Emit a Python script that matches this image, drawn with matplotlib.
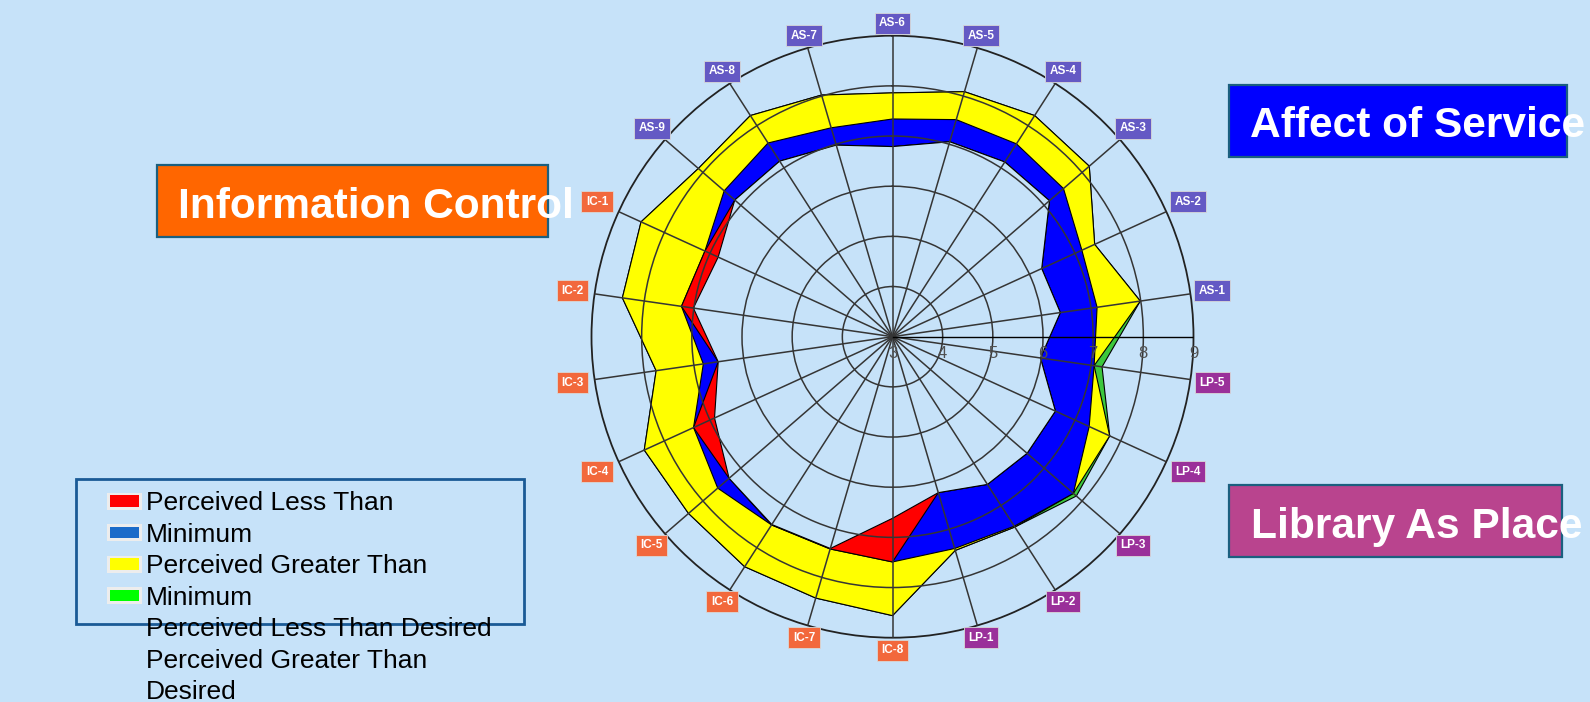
"""
LibQUAL style radar chart: minimum, perceived and desired scores per item.
"""

import numpy as np
import matplotlib.pyplot as plt
from matplotlib.patches import Rectangle

plt.rcParams['font.family'] = ['Liberation Sans', 'DejaVu Sans']

# colour constants
BG = '#C6E2F9'
LINE = '#353535'

# items, clockwise from the top
items = ['AS-6', 'AS-5', 'AS-4', 'AS-3', 'AS-2', 'AS-1',
         'LP-5', 'LP-4', 'LP-3', 'LP-2', 'LP-1',
         'IC-8', 'IC-7', 'IC-6', 'IC-5', 'IC-4', 'IC-3', 'IC-2', 'IC-1',
         'AS-9', 'AS-8', 'AS-7']
minimum = [6.79, 7.05, 7.14, 7.14, 6.27, 6.38,
           5.98, 6.57, 6.55, 6.50, 6.24,
           7.49, 7.41, 7.46, 7.31, 7.36, 6.51, 7.25, 7.11,
           7.16, 7.16, 6.98]
perceived = [7.34, 7.51, 7.57, 7.51, 7.15, 7.12,
             7.22, 7.31, 7.85, 7.49, 7.40,
             6.62, 7.40, 7.45, 7.61, 6.90, 6.81, 7.01, 6.82,
             7.44, 7.59, 7.34]
desired = [7.86, 8.09, 8.24, 8.19, 7.43, 7.99,
           7.06, 7.76, 7.77, 7.51, 7.44,
           8.56, 8.43, 8.45, 8.38, 8.44, 7.76, 8.44, 8.51,
           8.12, 8.24, 8.02]
r_ticks = [3, 4, 5, 6, 7, 8, 9]

label_colors = {'AS': '#6459C4', 'IC': '#F2683C', 'LP': '#9A309A'}

legend_lines = ['Perceived Less Than', 'Minimum', 'Perceived Greater Than', 'Minimum',
                'Perceived Less Than Desired', 'Perceived Greater Than', 'Desired']
legend_colors = ['#FF0000', '#1B6BC9', '#FFFF00', '#00FF00']

dimensions = ['Affect of Service', 'Information Control', 'Library As Place']
dimension_colors = ['#0000FF', '#FF6600', '#B9448E']

W, H = 1590, 702


def fx(x):
    return x / W


def fy(y):
    return 1 - y / H


fig = plt.figure(figsize=(W / 100, H / 100), dpi=100, facecolor=BG)

# radar
ax = fig.add_axes([fx(591.5), fy(637.7), 602 / W, 602 / H], projection='polar')
ax.set_facecolor(BG)
ax.set_theta_zero_location('N')
ax.set_theta_direction(-1)

n = len(items)
theta = np.arange(n) * 2 * np.pi / n
m = np.array(minimum)
p = np.array(perceived)
d = np.array(desired)

# painted in layers, the way the original tool stacks its polygons
layers = [
    (np.maximum(p, d), '#3CC83C'),
    (d, '#FFFF00'),
    (np.minimum(np.maximum(p, m), d), '#0000FF'),
    (m, '#FF0000'),
    (np.minimum(p, m), BG),
]
for r, c in layers:
    ax.fill(theta, r, facecolor=c, edgecolor='black', linewidth=0.8, zorder=1)

ax.set_ylim(r_ticks[0], r_ticks[-1])
ax.set_xticks(theta)
ax.set_xticklabels([])
ax.set_yticks(r_ticks[1:-1])
ax.set_yticklabels([])
ax.tick_params(length=0)
ax.grid(True, color=LINE, linewidth=1.1)
ax.set_axisbelow(False)
ax.spines['polar'].set_color('#222222')
ax.spines['polar'].set_linewidth(1.3)

# the radial scale along the east line
ax.plot([np.pi / 2, np.pi / 2], [r_ticks[0], r_ticks[-1]], color='black', lw=1.0, zorder=3)
for v in r_ticks:
    ax.annotate(str(v), xy=(np.pi / 2, v), xytext=(0, -17), textcoords='offset pixels',
                ha='center', va='center', fontsize=12, color='#505050',
                family='Liberation Sans', annotation_clip=False, zorder=4)

# item labels just outside the outer ring
for t, lab in zip(theta, items):
    ux, uy = np.sin(t), np.cos(t)
    reach = min(19 / abs(ux) if abs(ux) > 1e-6 else 1e9,
                9.5 / abs(uy) if abs(uy) > 1e-6 else 1e9) + 3
    ax.annotate(lab, xy=(t, r_ticks[-1]), xytext=(ux * reach, uy * reach),
                textcoords='offset pixels', ha='center', va='center',
                fontsize=8.5, fontweight='bold', color='white',
                bbox=dict(boxstyle='square,pad=0.38', fc=label_colors[lab[:2]],
                          ec='#D8D8D8', lw=0.6),
                annotation_clip=False, zorder=5)

# dimension boxes
boxes = [(1229.3, 85, 1566.7, 157.3, 1250, 137.3),
         (157.3, 165, 548.3, 237.3, 178.3, 217.7),
         (1229.3, 485, 1561.7, 557.3, 1250.7, 537.7)]
for name, col, (x0, y0, x1, y1, tx, ty) in zip(dimensions, dimension_colors, boxes):
    fig.add_artist(Rectangle((fx(x0), fy(y1)), (x1 - x0) / W, (y1 - y0) / H,
                             transform=fig.transFigure, facecolor=col,
                             edgecolor='#1B5F7F', linewidth=1.6))
    fig.text(fx(tx), fy(ty), name, fontsize=30.6, fontweight='bold', color='white',
             ha='left', va='baseline')

# legend, drawn by hand so the long text can spill out of the frame
fig.add_artist(Rectangle((fx(76), fy(623.5)), (524 - 76) / W, (623.5 - 479) / H,
                         transform=fig.transFigure, facecolor='none',
                         edgecolor='#1A5A96', linewidth=2.0))
for i, c in enumerate(legend_colors):
    yc = 501 + 31.6 * i
    fig.add_artist(Rectangle((fx(106.5), fy(yc + 8.5)), 35 / W, 17 / H,
                             transform=fig.transFigure, facecolor='#EDEDED',
                             edgecolor='none'))
    fig.add_artist(Rectangle((fx(110), fy(yc + 5.5)), 28.5 / W, 11.5 / H,
                             transform=fig.transFigure, facecolor=c, edgecolor='none'))
for i, line in enumerate(legend_lines):
    fig.text(fx(146), fy(510 + 31.55 * i), line, fontsize=19.0, color='black',
             ha='left', va='baseline')

fig.savefig('out.png', dpi=100, facecolor=BG)
